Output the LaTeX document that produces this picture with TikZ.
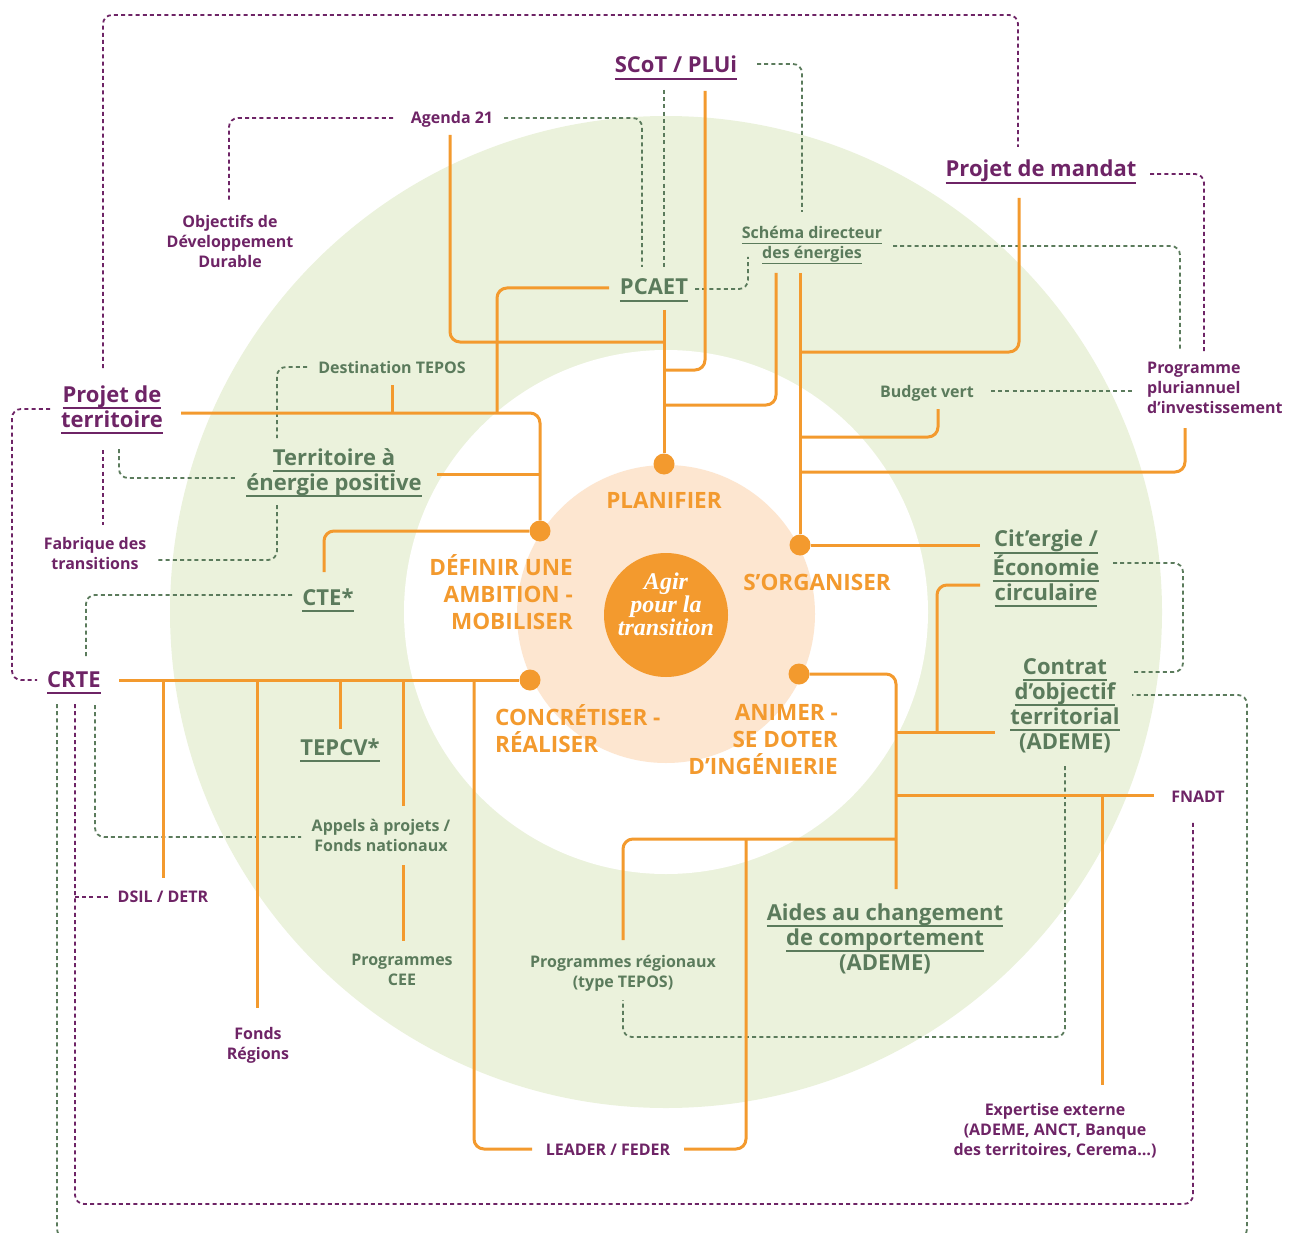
\documentclass[tikz,border=0pt]{standalone}
\usepackage{fontspec}
\setmainfont{Open Sans}
\newfontfamily\agirfont{Liberation Serif}
\usepackage{tikz}
\usetikzlibrary{calc}
\definecolor{orng}{HTML}{F39A2E}
\definecolor{peach}{HTML}{FDE6D0}
\definecolor{pale}{HTML}{EBF2DC}
\definecolor{grn}{HTML}{5B7B5C}
\definecolor{purp}{HTML}{6E2466}
\newsavebox\ulbox
\newcommand\ul[1]{\sbox\ulbox{#1}\rlap{\rule[-0.31em]{\wd\ulbox}{0.085em}}\usebox\ulbox}

\begin{document}
\begin{tikzpicture}[x=1pt,y=-1pt,
  org/.style={draw=orng,line width=3pt,rounded corners=10pt},
  dg/.style={draw=grn,line width=1.8pt,dash pattern=on 4pt off 3.2pt,rounded corners=9pt},
  dp/.style={dg,draw=purp},
  dot/.style={circle,fill=orng,inner sep=0pt,minimum size=21pt},
  lab/.style={inner sep=0pt,anchor=base,align=center},
  big/.style={lab,font=\fontsize{22}{25}\selectfont\bfseries},
  sml/.style={lab,font=\fontsize{16}{20}\selectfont\bfseries},
  phase/.style={lab,text=orng,font=\fontsize{22.5}{27}\selectfont\bfseries}]
\useasboundingbox (0,0) rectangle (1293,1233);
\clip (0,0) rectangle (1293,1233);

\fill[pale] (666,612) circle (496pt);
\fill[white] (666,612) circle (262pt);
\fill[peach] (666,614) circle (149pt);
\fill[orng] (666,615) circle (62pt);

\node[dot] (dplan) at (664,464) {};
\node[dot] (ddef) at (540,531) {};
\node[dot] (dorg) at (800,545) {};
\node[dot] (dconc) at (530,680) {};
\node[dot] (danim) at (799,674) {};

\coordinate (pt3) at (103,368); \coordinate (tp) at (560,15); \coordinate (md3) at (1018,147);
\draw[dp] (pt3) |- (tp) -| (md3);
\coordinate (ag3) at (393,118); \coordinate (od1) at (229,200);
\draw[dp] (ag3) -| (od1);
\coordinate (md4) at (1150,174); \coordinate (pp3) at (1204,352);
\draw[dp] (md4) -| (pp3);
\coordinate (pt4) at (50,409); \coordinate (lf) at (12,545); \coordinate (cr3) at (37,680);
\draw[dp] (pt4) -| (lf) |- (cr3);
\coordinate (pt5) at (103,450); \coordinate (fb1) at (103,525);
\draw[dp] (pt5) -- (fb1);
\coordinate (cr4) at (75,704); \coordinate (bt) at (600,1204); \coordinate (fn2) at (1193,821);
\draw[dp] (cr4) |- (bt) -| (fn2);
\coordinate (cr5) at (75,897); \coordinate (ds2) at (108,897);
\draw[dp] (cr5) -- (ds2);

\coordinate (ag4) at (504,118); \coordinate (pc3) at (642,267);
\draw[dg] (ag4) -| (pc3);
\coordinate (sc3) at (664,90); \coordinate (pc4) at (664,268);
\draw[dg] (sc3) -- (pc4);
\coordinate (sc4) at (757,64); \coordinate (sd4) at (802,212);
\draw[dg] (sc4) -| (sd4);
\coordinate (pc5) at (695,289); \coordinate (sd5) at (748,257);
\draw[dg] (pc5) -| (sd5);
\coordinate (sd6) at (893,246); \coordinate (pp4) at (1180,350);
\draw[dg] (sd6) -| (pp4);
\coordinate (bv3) at (991,391); \coordinate (pp5) at (1132,391);
\draw[dg] (bv3) -- (pp5);
\coordinate (dt3) at (307,367); \coordinate (te3) at (277,438);
\draw[dg] (dt3) -| (te3);
\coordinate (pt6) at (119,449); \coordinate (te4) at (236,478);
\draw[dg] (pt6) |- (te4);
\coordinate (te5) at (277,505); \coordinate (fb2) at (158,560);
\draw[dg] (te5) |- (fb2);
\coordinate (ct2) at (292,595); \coordinate (cr6) at (86,657);
\draw[dg] (ct2) -| (cr6);
\coordinate (cr7) at (95,705); \coordinate (ap1) at (301,837);
\draw[dg] (cr7) |- (ap1);
\coordinate (cr8) at (57,704); \coordinate (bt2) at (600,1238); \coordinate (rt) at (1247,900); \coordinate (co3) at (1132,695);
\draw[dg] (cr8) |- (bt2) -| (rt) |- (co3);
\coordinate (ci3) at (1113,563); \coordinate (rt2) at (1183,620); \coordinate (co4) at (1131,672);
\draw[dg] (ci3) -| (rt2) |- (co4);
\coordinate (co5) at (1065,766); \coordinate (bt3) at (850,1037); \coordinate (pr2) at (623,1000);
\draw[dg] (co5) |- (bt3) -| (pr2);

\coordinate (pc1) at (609,288); \coordinate (pt2) at (497,413);
\draw[org] (pc1) -| (pt2);
\coordinate (ag1) at (450,135); \coordinate (ag2) at (664,342);
\draw[org] (ag1) |- (ag2);
\coordinate (pc2) at (664,310);
\draw[org] (pc2) -- (dplan);
\coordinate (sc1) at (705,91); \coordinate (sc2) at (664,370);
\draw[org] (sc1) |- (sc2);
\coordinate (sd1) at (776,273); \coordinate (sd2) at (664,405);
\draw[org] (sd1) |- (sd2);
\coordinate (sd3) at (800,273);
\draw[org] (sd3) -- (dorg);
\coordinate (md1) at (1019,198); \coordinate (md2) at (800,352);
\draw[org] (md1) |- (md2);
\coordinate (bv1) at (938,409); \coordinate (bv2) at (800,437);
\draw[org] (bv1) |- (bv2);
\coordinate (pp1) at (1185,428); \coordinate (pp2) at (800,472);
\draw[org] (pp1) |- (pp2);
\coordinate (ci1) at (980,545);
\draw[org] (dorg) -- (ci1);
\coordinate (ci2) at (980,585); \coordinate (co1) at (937,732);
\draw[org] (ci2) -| (co1);
\coordinate (an1) at (896,889);
\draw[org] (danim) -| (an1);
\coordinate (an2) at (896,732); \coordinate (co2) at (995,732);
\draw[org] (an2) -- (co2);
\coordinate (an3) at (896,795); \coordinate (fn1) at (1154,795);
\draw[org] (an3) -- (fn1);
\coordinate (ex1) at (1102,795); \coordinate (ex2) at (1102,1085);
\draw[org] (ex1) -- (ex2);
\coordinate (an4) at (896,839); \coordinate (pr1) at (623,940);
\draw[org] (an4) -| (pr1);
\coordinate (ld1) at (746,839); \coordinate (ld2) at (684,1149);
\draw[org] (ld1) |- (ld2);
\coordinate (ld3) at (532,1149); \coordinate (cr2) at (474,680);
\draw[org] (ld3) -| (cr2);
\coordinate (cr1) at (119,680);
\draw[org] (cr1) -- (dconc);
\foreach \n/\x/\y in {ds/163/878,fo/257/1008,tv/340/729,ap/403/806}{
  \coordinate (\n0) at (\x,680); \coordinate (\n1) at (\x,\y);
  \draw[org] (\n0) -- (\n1);}
\coordinate (ce1) at (403,865); \coordinate (ce2) at (403,941);
\draw[org] (ce1) -- (ce2);
\coordinate (pt1) at (181,413);
\draw[org] (pt1) -| (ddef);
\coordinate (dt1) at (392,385); \coordinate (dt2) at (392,413);
\draw[org] (dt1) -- (dt2);
\coordinate (te1) at (437,474); \coordinate (te2) at (540,474);
\draw[org] (te1) -- (te2);
\coordinate (ct1) at (324,572);
\draw[org] (ddef) -| (ct1);

\node[big,text=purp] (scot) at (676,73) {\ul{SCoT / PLUi}};
\node[sml,text=purp] (ag) at (452,124) {Agenda 21};
\node[sml,text=purp] (odd) at (230,268) {Objectifs de\\Développement\\Durable};
\node[big,text=purp] (mandat) at (1041,177) {\ul{Projet de mandat}};
\node[big,text=grn] (pcaet) at (654,295) {\ul{PCAET}};
\node[sml,text=grn] (sde) at (812,259) {\ul{Schéma directeur}\\\ul{des énergies}};
\node[big,text=purp] (pterr) at (112,427) {\ul{Projet de}\\\ul{territoire}};
\node[sml,text=grn] (dtepos) at (392,373) {Destination TEPOS};
\node[big,text=grn] (tepos) at (334,490) {\ul{Territoire à}\\\ul{énergie positive}};
\node[sml,text=grn] (budget) at (927,397) {Budget vert};
\node[sml,text=purp,anchor=base west,align=left] (ppi) at (1147,413) {Programme\\pluriannuel\\d’investissement};
\node[sml,text=purp] (fab) at (95,569) {Fabrique des\\transitions};
\node[big,text=grn] (cte) at (328,605) {\ul{CTE*}};
\node[big,text=grn] (cit) at (1046,600) {\ul{Cit’ergie /}\\\ul{Économie}\\\ul{circulaire}};
\node[big,text=grn] (cot) at (1065,749) {\ul{Contrat}\\\ul{d’objectif}\\\ul{territorial}\\(ADEME)};
\node[sml,text=purp] (fnadt) at (1198,802) {FNADT};
\node[big,text=grn] (aides) at (885,970) {\ul{Aides au changement}\\\ul{de comportement}\\(ADEME)};
\node[big,text=purp] (crte) at (74,687) {\ul{CRTE}};
\node[big,text=grn] (tepcv) at (340,755) {\ul{TEPCV*}};
\node[sml,text=grn] (app) at (381,851) {Appels à projets /\\Fonds nationaux};
\node[sml,text=purp] (dsil) at (163,902) {DSIL / DETR};
\node[sml,text=grn] (cee) at (402,985) {Programmes\\CEE};
\node[sml,text=purp] (fonds) at (258,1059) {Fonds\\Régions};
\node[sml,text=grn] (preg) at (623,987) {Programmes régionaux\\(type TEPOS)};
\node[sml,text=purp] (leader) at (608,1155) {LEADER / FEDER};
\node[sml,text=purp] (expert) at (1055,1155) {Expertise externe\\(ADEME, ANCT, Banque\\des territoires, Cerema…)};

\node[phase] (plan) at (664,508) {PLANIFIER};
\node[phase,anchor=base east,align=right] (def) at (573,629) {DÉFINIR UNE\\AMBITION -\\MOBILISER};
\node[phase] (orga) at (817,590) {S’ORGANISER};
\node[phase,anchor=base west,align=left] (conc) at (495,752) {CONCRÉTISER -\\RÉALISER};
\node[phase,anchor=base east,align=right] (anim) at (838,774) {ANIMER -\\SE DOTER\\D’INGÉNIERIE};
\node[lab,text=white,font=\agirfont\fontsize{24}{18.5}\selectfont\bfseries\itshape] (agir) at (666,635) {Agir\\pour la\\transition};
\end{tikzpicture}
\end{document}
